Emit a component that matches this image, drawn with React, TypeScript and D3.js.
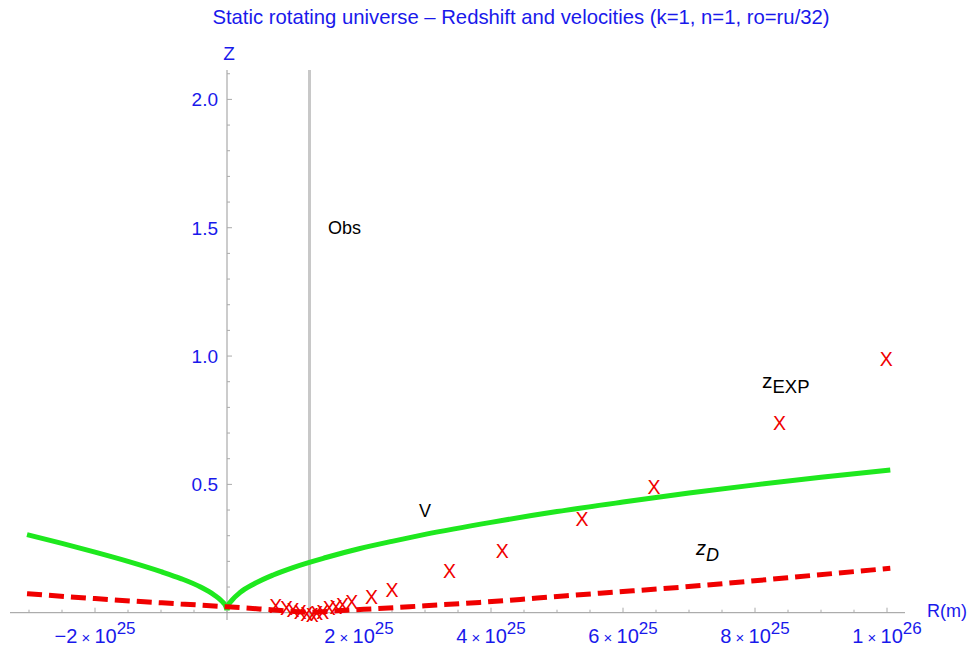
import React from "react";
import * as d3 from "d3";

// R in units of 1e25 m
const greenLeftR = [-3.03, -2.5, -2.0, -1.5, -1.0, -0.7, -0.4, -0.2, -0.08, -0.02, 0];
const greenLeftZ = [0.304, 0.27, 0.236, 0.2, 0.16, 0.133, 0.1, 0.07, 0.045, 0.026, 0.01];
const greenRightR = [0, 0.02, 0.08, 0.2, 0.4, 0.7, 1.0, 1.5, 2.0, 2.5, 3.0, 4.0, 5.0, 6.0, 7.0, 8.0, 9.0, 10.05];
const greenRightZ = [0.01, 0.028, 0.05, 0.079, 0.111, 0.147, 0.176, 0.215, 0.249, 0.278, 0.305, 0.352, 0.394, 0.431, 0.466, 0.498, 0.528, 0.556];

const zdR = [-3.03, -2.0, -1.42, -0.7, 0, 0.6, 1.25, 1.9, 2.3, 3.0, 3.83, 4.7, 5.65, 6.86, 7.85, 8.9, 10.05];
const zdZ = [0.074, 0.055, 0.045, 0.034, 0.023, 0.013, 0.002, 0.011, 0.016, 0.027, 0.04, 0.057, 0.076, 0.099, 0.121, 0.146, 0.173];

const expR = [0.74, 0.9, 1.0, 1.11, 1.21, 1.29, 1.36, 1.45, 1.55, 1.65, 1.75, 1.89, 2.19, 2.5, 3.37, 4.17, 5.38, 6.47, 8.37, 9.99];
const expZ = [0.026, 0.017, 0.011, 0.003, -0.005, -0.009, -0.002, 0.004, 0.017, 0.023, 0.03, 0.04, 0.062, 0.088, 0.162, 0.24, 0.365, 0.49, 0.74, 0.99];

const obsR = 1.25;

const xTickValues = [-2, 2, 4, 6, 8, 10];
const xTickMant = ["\u22122", "2", "4", "6", "8", "1"];
const xTickExp = ["25", "25", "25", "25", "25", "26"];
const yTickValues = [0.5, 1.0, 1.5, 2.0];
const yTickLabels = ["0.5", "1.0", "1.5", "2.0"];

const titleText = "Static rotating universe \u2013 Redshift and velocities (k=1, n=1, ro=ru/32)";

const BLUE = "rgb(25,25,235)";
const GREEN = "rgb(30,232,30)";
const RED = "rgb(240,0,0)";
const FONT = "Liberation Sans, Arial, sans-serif";

export default function App() {
  const W = 973, H = 648;
  const x = d3.scaleLinear().domain([0, 10]).range([227, 887]);
  const y = d3.scaleLinear().domain([0, 2]).range([612.7, 99.4]);

  const line = d3.line<[number, number]>().x(d => x(d[0])).y(d => y(d[1])).curve(d3.curveMonotoneX);
  const gl = line(greenLeftR.map((r, i) => [r, greenLeftZ[i]]));
  const gr = line(greenRightR.map((r, i) => [r, greenRightZ[i]]));
  const zd = line(zdR.map((r, i) => [r, zdZ[i]]));

  const xMinor = d3.range(-3, 10.01, 0.5);
  const yMinor = d3.range(0.1, 2.101, 0.1);

  const xAxisY = y(0);
  const yAxisX = x(0);

  return (
    <svg width={W} height={H} style={{ position: "absolute", left: 0, top: 0, display: "block", background: "#fff" }} fontFamily={FONT}>
      <rect x={0} y={0} width={W} height={H} fill="#fff" />
      {/* title */}
      <text x={521} y={24} fontSize={20.3} fill={BLUE} textAnchor="middle">{titleText}</text>
      {/* obs line */}
      <line x1={x(obsR)} x2={x(obsR)} y1={70} y2={620} stroke="#c8c8c8" strokeWidth={3} />
      {/* axes */}
      <line x1={10} x2={905} y1={xAxisY} y2={xAxisY} stroke="#999" strokeWidth={1} />
      <line x1={yAxisX} x2={yAxisX} y1={70} y2={620} stroke="#999" strokeWidth={1} />
      {xMinor.map((v, i) => {
        const major = xTickValues.some(t => Math.abs(t - v) < 1e-6);
        return <line key={"xm" + i} x1={x(v)} x2={x(v)} y1={xAxisY} y2={xAxisY - (major ? 5 : 3)} stroke="#aaa" strokeWidth={1} />;
      })}
      {yMinor.map((v, i) => {
        const major = yTickValues.some(t => Math.abs(t - v) < 1e-6);
        return <line key={"ym" + i} x1={yAxisX} x2={yAxisX + (major ? 5 : 3)} y1={y(v)} y2={y(v)} stroke="#aaa" strokeWidth={1} />;
      })}
      {xTickValues.map((v, i) => (
        <text key={"xt" + i} x={x(v)} y={643} fontSize={20} fill={BLUE} textAnchor="middle">
          {xTickMant[i]}<tspan fontSize={15}> × </tspan>10<tspan fontSize={17} dy={-9}>{xTickExp[i]}</tspan>
        </text>
      ))}
      {yTickValues.map((v, i) => (
        <text key={"yt" + i} x={218} y={y(v)} dy="0.36em" fontSize={19} fill={BLUE} textAnchor="end">{yTickLabels[i]}</text>
      ))}
      <text x={229} y={60} fontSize={19} fill={BLUE} textAnchor="middle">Z</text>
      <text x={927} y={617} fontSize={18} fill={BLUE}>R(m)</text>
      {/* curves */}
      <path d={gl || ""} fill="none" stroke={GREEN} strokeWidth={5} />
      <path d={gr || ""} fill="none" stroke={GREEN} strokeWidth={5} />
      <path d={zd || ""} fill="none" stroke={RED} strokeWidth={5} strokeDasharray="15,7" />
      {/* markers */}
      {expR.map((r, i) => (
        <text key={"m" + i} x={x(r)} y={y(expZ[i])} dy="0.36em" fontSize={19.5} fill={RED} textAnchor="middle">X</text>
      ))}
      {/* labels */}
      <text x={328} y={234} fontSize={18} fill="#000">Obs</text>
      <text x={425} y={517} fontSize={18} fill="#000" textAnchor="middle">V</text>
      <text x={762} y={388} fontSize={21} fill="#000">z<tspan fontSize={18.5} dy={5}>EXP</tspan></text>
      <text x={696} y={555} fontSize={20} fill="#000" fontStyle="italic">z<tspan fontSize={18} dy={6}>D</tspan></text>
    </svg>
  );
}
